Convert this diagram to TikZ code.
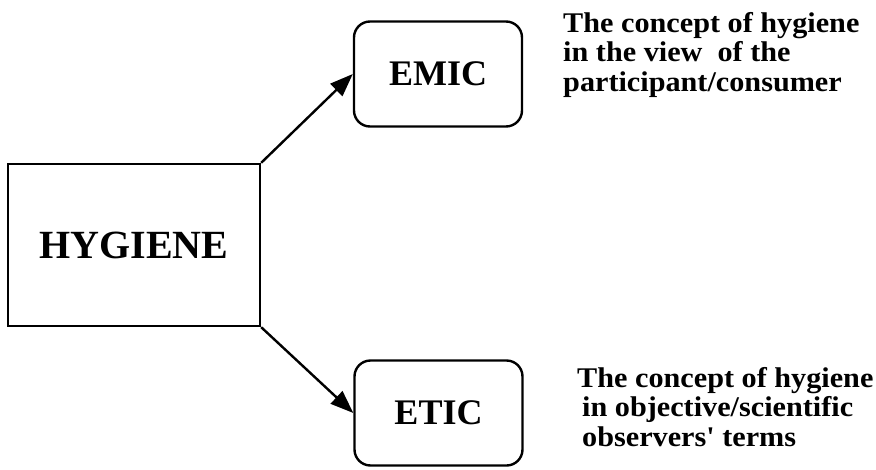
\documentclass[tikz,border=0pt]{standalone}
\usepackage{fontspec}
\setmainfont{Liberation Serif}
\newfontfamily\notefont[FakeStretch=1.06]{Liberation Serif}
\usepackage{tikz}
\usetikzlibrary{
  arrows.meta,
  positioning,
  shapes,
}
\tikzstyle{arrow} = [
  -{Triangle[length=23pt,width=17pt]},
  line width=2.4pt,
  black,
]
\tikzstyle{bigbox} = [
  draw,
  rectangle,
  line width=2.4pt,
  minimum width=252pt,
  minimum height=162pt,
  font=\fontsize{40}{44}\selectfont\bfseries,
]
\tikzstyle{smallbox} = [
  draw,
  rectangle,
  rounded corners=16pt,
  line width=2.4pt,
  minimum width=168pt,
  minimum height=105pt,
  font=\fontsize{36}{40}\selectfont\bfseries,
]
\tikzstyle{note} = [
  anchor=north west,
  inner sep=0pt,
  align=left,
  font=\notefont\bfseries\fontsize{28.5}{29.5}\selectfont,
]

\begin{document}
\begin{tikzpicture}[x=1pt, y=-1pt]
      \useasboundingbox (0, 0) rectangle (876, 469);

      \node [bigbox] (hygiene) at (134, 245) {HYGIENE};

      \node [smallbox] (emic) at (438, 74) {EMIC};
      \node [smallbox] (etic) at (438.5, 413) {ETIC};

      \draw [arrow] (hygiene.north east) -- (emic.west);
      \draw [arrow] (hygiene.south east) -- (etic.west);

      \node [note] (emicnote) at (563, 12)
        {The concept of hygiene\\in the view \ of the\\participant/consumer};
      \node [note] (eticnote) at (577, 367)
        {The concept of hygiene\\\hspace{5pt}in objective/scientific\\\hspace{5pt}observers' terms};
    \end{tikzpicture}
\end{document}
